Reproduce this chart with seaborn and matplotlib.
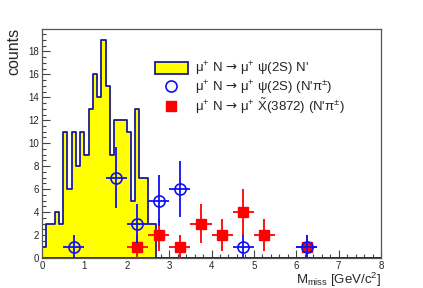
import numpy as np
import pandas as pd
import matplotlib
matplotlib.use("Agg")
import matplotlib.pyplot as plt
from matplotlib.patches import Patch
from matplotlib.lines import Line2D
from matplotlib.ticker import MultipleLocator
import seaborn as sns

# histogram: mu+ N -> mu+ psi(2S) N'  (bins of 0.1 GeV/c^2 from 0)
hist_counts = [1, 3, 3, 4, 3, 11, 6, 11, 8, 11, 9, 13, 16, 14, 19, 15,
               9, 12, 12, 12, 11, 5, 13, 7, 7, 3, 3]
bin_width = 0.1
x_max = 8.0

# open circles: psi(2S) (N' pi+-)
psi_x = [0.75, 1.75, 2.25, 2.75, 3.25, 4.75, 6.25]
psi_y = [1, 7, 3, 5, 6, 1, 1]

# red squares: X(3872) (N' pi+-)
x3872_x = [2.25, 2.75, 3.25, 3.75, 4.25, 4.75, 5.25, 6.25]
x3872_y = [1, 2, 1, 3, 2, 4, 2, 1]

point_xerr = 0.25

sns.set_theme(style="ticks")
plt.rcParams['font.family'] = ['Liberation Sans', 'DejaVu Sans']
plt.rcParams['mathtext.fontset'] = 'custom'
plt.rcParams['mathtext.rm'] = 'Liberation Sans'
plt.rcParams['mathtext.it'] = 'Liberation Sans'
plt.rcParams['mathtext.bf'] = 'Liberation Sans:bold'
plt.rcParams['mathtext.sf'] = 'DejaVu Sans'

navy = '#1a1a96'
blue = '#1010f0'
red = '#ff0000'

fig = plt.figure(figsize=(4.23, 2.88), dpi=100)
ax = fig.add_axes([42/423, 1 - 258/288, 339/423, 229/288])

# pad histogram with empty bins up to the x range end
n_bins = int(round(x_max / bin_width))
counts = np.zeros(n_bins)
counts[:len(hist_counts)] = hist_counts
centers = (np.arange(n_bins) + 0.5) * bin_width
hist_df = pd.DataFrame({'m': centers, 'w': counts})

sns.histplot(data=hist_df, x='m', weights='w', binwidth=bin_width, binrange=(0, x_max),
             element="step", fill=True, color="#ffff00", edgecolor=navy,
             alpha=1, linewidth=1.3, ax=ax)

ax.errorbar(x3872_x, x3872_y, xerr=point_xerr, yerr=np.sqrt(x3872_y),
            fmt='s', color=red, ms=7, elinewidth=1.3, capsize=0, zorder=3)
ax.errorbar(psi_x, psi_y, xerr=point_xerr, yerr=np.sqrt(psi_y),
            fmt='o', color=blue, mfc='none', mec=blue, mew=1.2, ms=8,
            elinewidth=1.3, capsize=0, zorder=4)

ax.set_xlim(0, x_max)
ax.set_ylim(0, 19.95)
ax.xaxis.set_major_locator(MultipleLocator(1))
ax.xaxis.set_minor_locator(MultipleLocator(0.2))
ax.yaxis.set_major_locator(MultipleLocator(2))
ax.yaxis.set_minor_locator(MultipleLocator(0.5))
ax.tick_params(which='both', direction='in', labelsize=7, width=0.8,
               color='#444444', top=False, right=False)
ax.tick_params(which='major', length=6, pad=2)
ax.tick_params(which='minor', length=3)
ax.set_xlabel('')
ax.set_ylabel('')
for s in ax.spines.values():
    s.set_color('#555555')
    s.set_linewidth(0.9)

fig.text(13.5/423, 1 - 28/288, 'counts', rotation=90, ha='center', va='top',
         fontsize=11.5)
fig.text(381/423, 4/288, r'M$_{\mathrm{miss}}$ [GeV/c$^{2}$]', ha='right',
         va='baseline', fontsize=9.5)

arrow = "$\\mathsf{\u2192}$"
handles = [
    Patch(facecolor='#ffff00', edgecolor=navy, linewidth=1.3),
    Line2D([], [], ls='none', marker='o', mfc='none', mec=blue, mew=1.2, ms=8),
    Line2D([], [], ls='none', marker='s', color=red, ms=7),
]
labels = [
    "\u03bc$^{+}$ N " + arrow + " \u03bc$^{+}$ \u03c8(2S) N'",
    "\u03bc$^{+}$ N " + arrow + " \u03bc$^{+}$ \u03c8(2S) (N'\u03c0$^{\\pm}$)",
    "\u03bc$^{+}$ N " + arrow + " \u03bc$^{+}$ $\\tilde{\\mathrm{X}}$(3872) (N'\u03c0$^{\\pm}$)",
]
fig.legend(handles, labels, loc='upper left', bbox_to_anchor=(155/423, 1 - 60/288),
           frameon=False, fontsize=9.5, handlelength=2.5, handleheight=1.0,
           handletextpad=0.5, labelspacing=0.03, borderpad=0, borderaxespad=0)

fig.savefig('out.png', dpi=100)
